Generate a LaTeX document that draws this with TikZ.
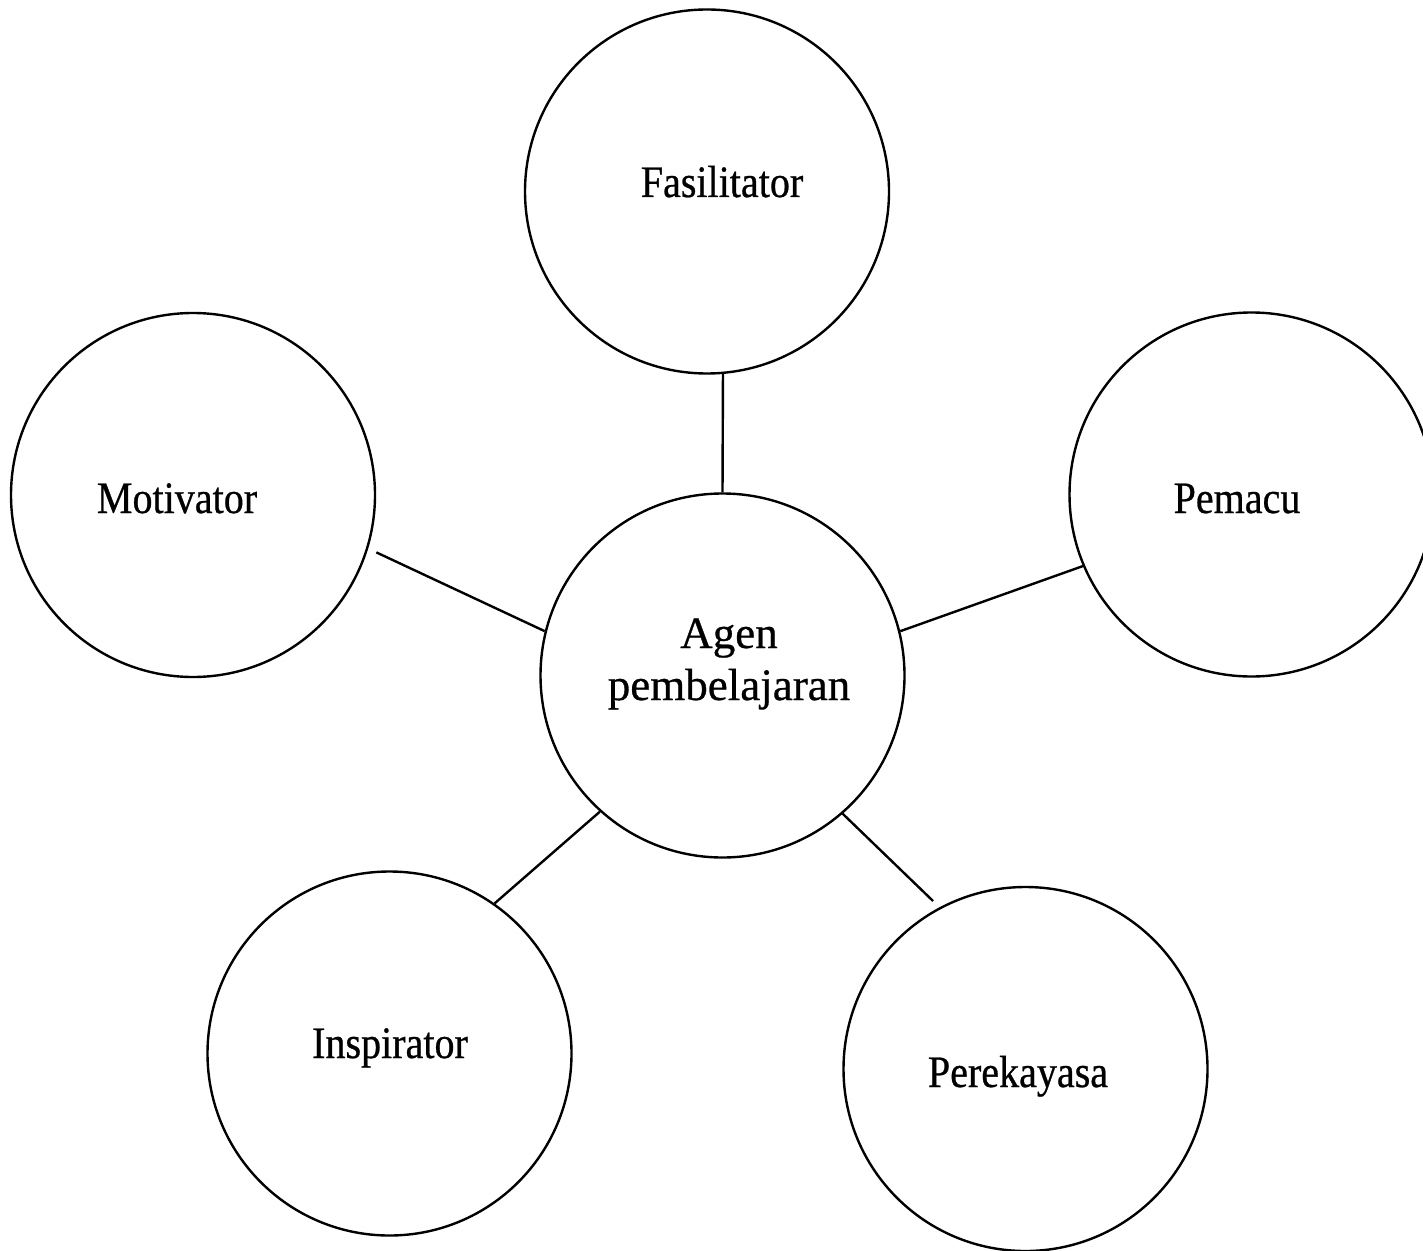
\documentclass[tikz,border=0pt]{standalone}
\usepackage{fontspec}
\setmainfont{Liberation Serif}[FakeStretch=0.89,FakeBold=0.6]
\newfontfamily\widefont{Liberation Serif}[FakeBold=0.6]
\usepackage{tikz}

\begin{document}
\begin{tikzpicture}
[x=0.5pt,y=-0.5pt,line width=1.2pt,%
  bubble/.style={shape=circle,draw,line width=1.2pt,minimum size=182pt,inner sep=0pt},
  word/.style={anchor=base,inner sep=0pt,align=center,
    font=\fontsize{22.5}{26}\selectfont}]
\useasboundingbox (0,0) rectangle (1423,1251);
% circles
\node[bubble] (agen)   at (722.5,675.5)  {};
\node[bubble] (fasil)  at (707,191.5)    {};
\node[bubble] (motiv)  at (193,495)      {};
\node[bubble] (pemacu) at (1251.5,494.5) {};
\node[bubble] (inspir) at (389.5,1053.5) {};
\node[bubble] (perek)  at (1025.5,1069)  {};
% texts
\node[word,font=\widefont\fontsize{22.5}{26}\selectfont]
  (agen-t) at (729,700) {Agen\\pembelajaran};
\node[word] (fasil-t)  at (722,197)  {Fasilitator};
\node[word] (motiv-t)  at (177,513)  {Motivator};
\node[word] (pemacu-t) at (1237,513) {Pemacu};
\node[word] (inspir-t) at (390,1058) {Inspirator};
\node[word] (perek-t)  at (1018,1087) {Perekayasa};
% connectors
\draw (agen.90)  -- (fasil.-85.3);
\draw[shorten >=4.5pt] (agen.166) -- (motiv.-17.9);
\draw (agen.14)  -- (pemacu.203.4);
\draw (agen.228.6) -- (inspir.55);
\draw[shorten >=4.5pt] (agen.311.7) -- (perek.118.2);
\end{tikzpicture}
\end{document}
